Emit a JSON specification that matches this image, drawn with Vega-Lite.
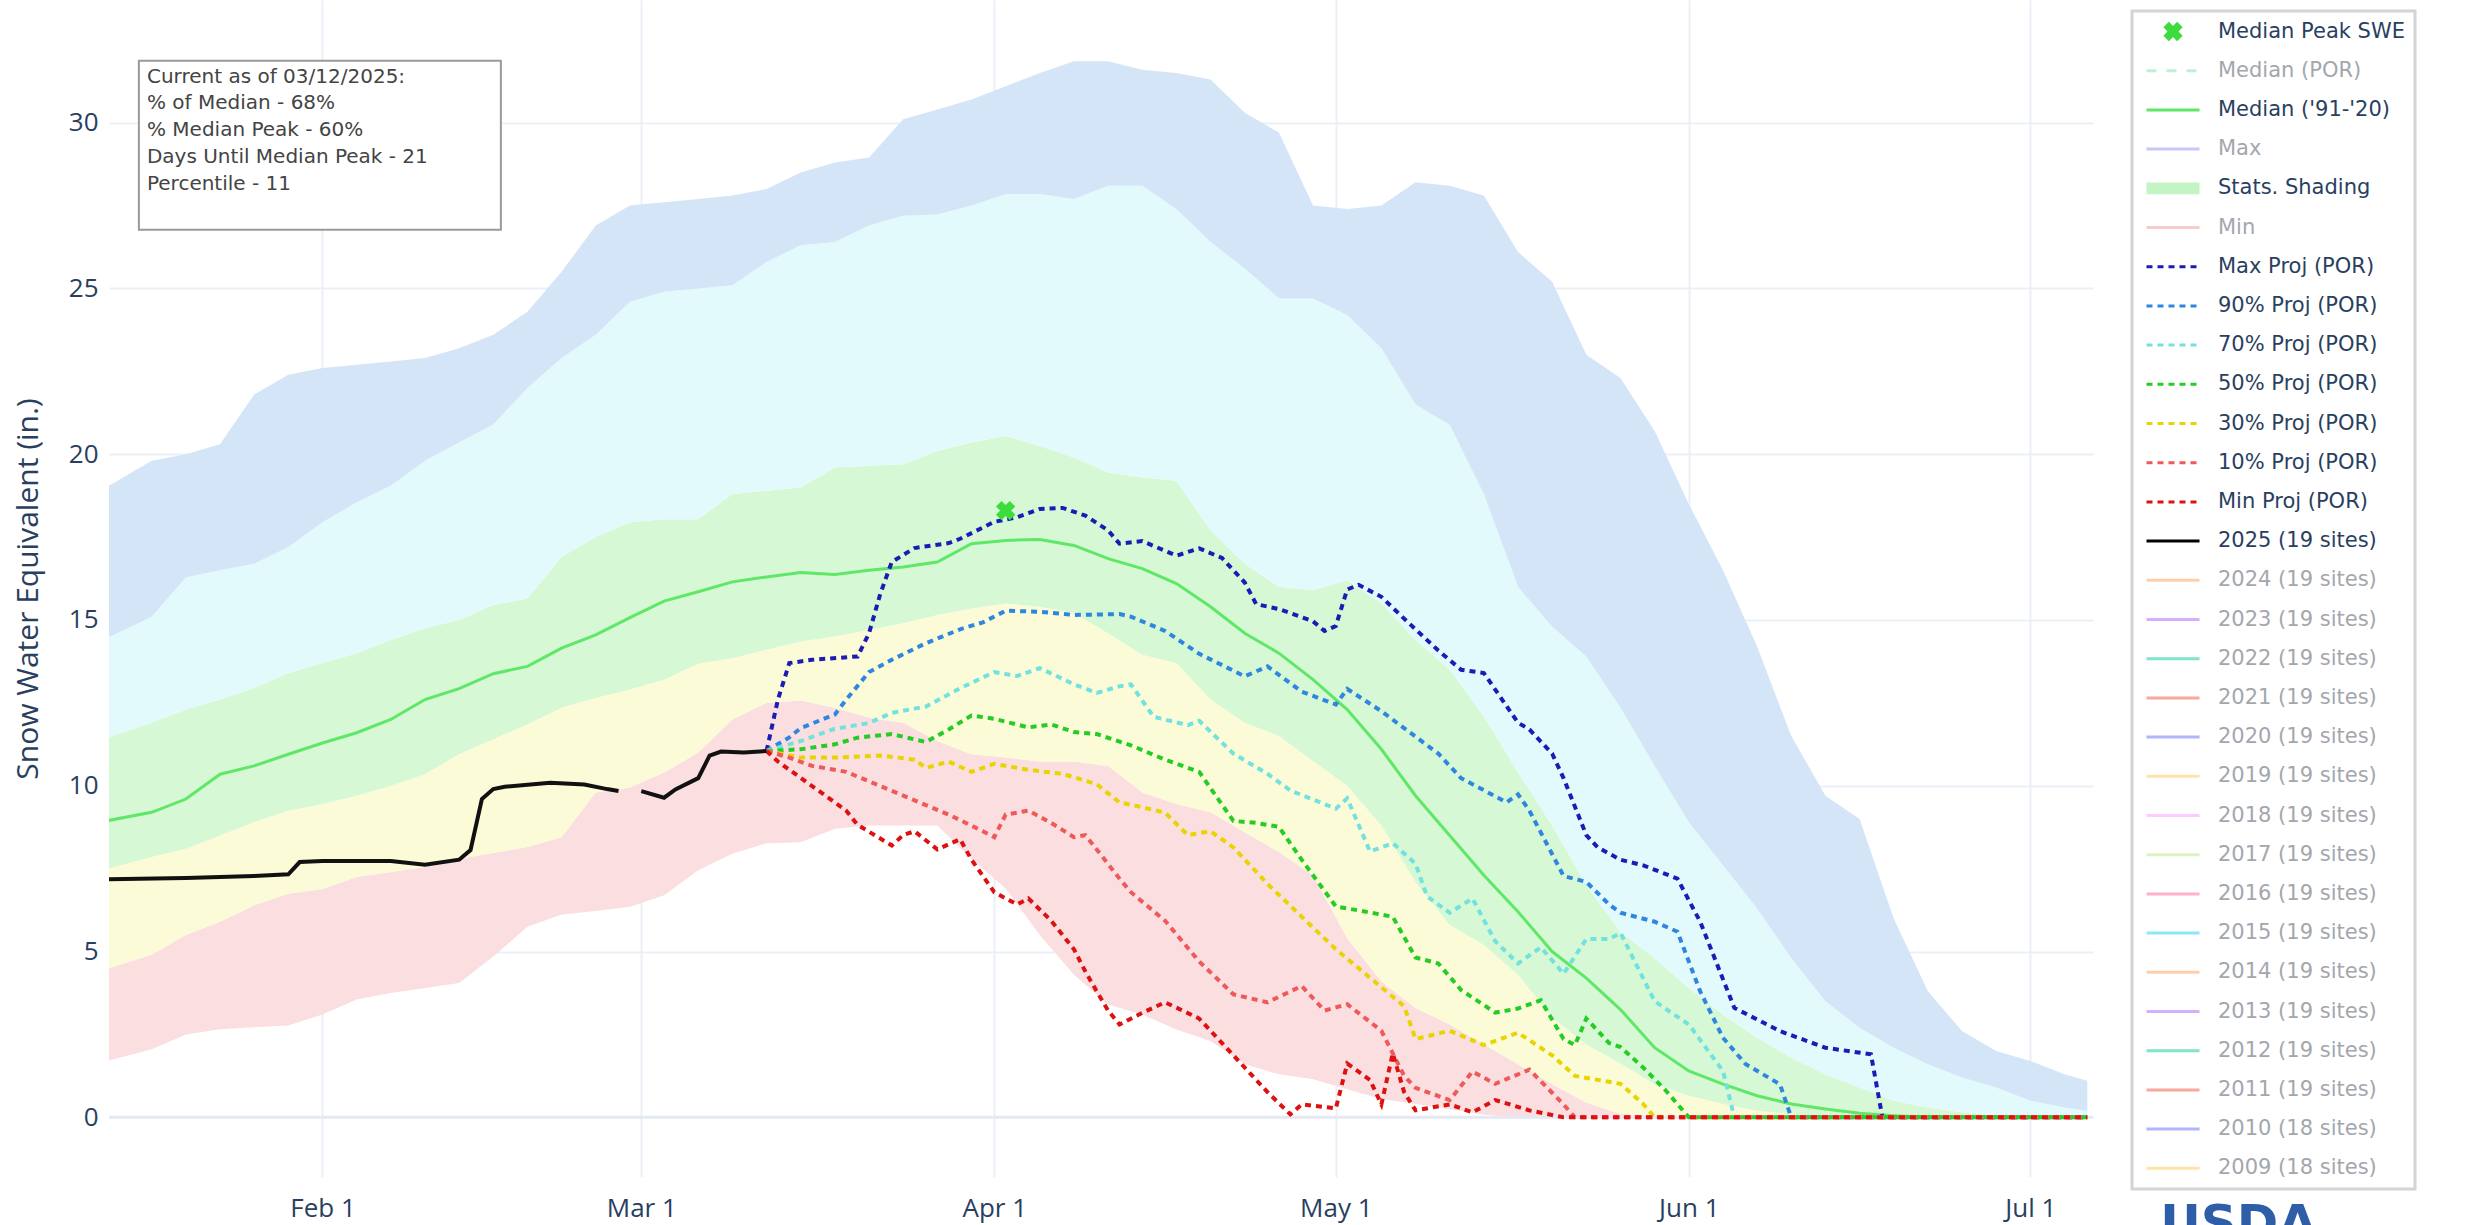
{
  "$schema": "https://vega.github.io/schema/vega-lite/v6.json",
  "width": 1984,
  "height": 1177,
  "autosize": {"type": "none"},
  "padding": {"left": 109, "top": 0, "right": 378, "bottom": 48},
  "background": "white",
  "title": {"text": "USDA", "orient": "bottom", "anchor": "end", "frame": "group", "baseline": "top", "offset": 0, "dx": 224, "dy": -21, "fontSize": 50, "font": "DejaVu Sans", "fontWeight": "bold", "color": "#2f5ea8"},
  "config": {
    "font": "DejaVu Sans",
    "view": {"stroke": null},
    "axis": {
      "labelFont": "Open Sans",
      "labelFontSize": 26,
      "labelColor": "#2a3f5f",
      "gridColor": "#ebf0f8",
      "gridWidth": 2,
      "domain": false,
      "ticks": false,
      "titleFont": "Open Sans",
      "titleColor": "#2a3f5f",
      "titleFontWeight": "normal"
    }
  },
  "datasets": {
    "bands": [
      {"date":"2025/01/13","mn":1.69,"p10":4.47,"p30":7.48,"p70":11.44,"p90":14.44,"mx":19.0},
      {"date":"2025/01/17","mn":2.05,"p10":4.9,"p30":7.85,"p70":11.9,"p90":15.1,"mx":19.8},
      {"date":"2025/01/20","mn":2.5,"p10":5.5,"p30":8.1,"p70":12.3,"p90":16.28,"mx":20.0},
      {"date":"2025/01/23","mn":2.66,"p10":5.9,"p30":8.5,"p70":12.6,"p90":16.5,"mx":20.3},
      {"date":"2025/01/26","mn":2.72,"p10":6.4,"p30":8.9,"p70":12.95,"p90":16.7,"mx":21.8},
      {"date":"2025/01/29","mn":2.77,"p10":6.74,"p30":9.25,"p70":13.4,"p90":17.2,"mx":22.4},
      {"date":"2025/02/01","mn":3.1,"p10":6.89,"p30":9.45,"p70":13.7,"p90":17.95,"mx":22.6},
      {"date":"2025/02/04","mn":3.55,"p10":7.25,"p30":9.7,"p70":14.0,"p90":18.55,"mx":22.7},
      {"date":"2025/02/07","mn":3.75,"p10":7.4,"p30":10.0,"p70":14.4,"p90":19.05,"mx":22.8},
      {"date":"2025/02/10","mn":3.9,"p10":7.55,"p30":10.35,"p70":14.75,"p90":19.8,"mx":22.9},
      {"date":"2025/02/13","mn":4.05,"p10":7.8,"p30":10.95,"p70":15.0,"p90":20.35,"mx":23.2},
      {"date":"2025/02/16","mn":4.85,"p10":7.97,"p30":11.4,"p70":15.45,"p90":20.9,"mx":23.6},
      {"date":"2025/02/19","mn":5.75,"p10":8.15,"p30":11.85,"p70":15.65,"p90":22.0,"mx":24.3},
      {"date":"2025/02/22","mn":6.12,"p10":8.45,"p30":12.35,"p70":16.9,"p90":22.9,"mx":25.5},
      {"date":"2025/02/25","mn":6.22,"p10":9.8,"p30":12.65,"p70":17.5,"p90":23.6,"mx":26.9},
      {"date":"2025/02/28","mn":6.35,"p10":9.95,"p30":12.9,"p70":17.95,"p90":24.6,"mx":27.5},
      {"date":"2025/03/03","mn":6.7,"p10":10.4,"p30":13.2,"p70":18.04,"p90":24.9,"mx":27.6},
      {"date":"2025/03/06","mn":7.45,"p10":11.0,"p30":13.68,"p70":18.04,"p90":25.0,"mx":27.7},
      {"date":"2025/03/09","mn":7.95,"p10":12.0,"p30":13.85,"p70":18.8,"p90":25.1,"mx":27.8},
      {"date":"2025/03/12","mn":8.27,"p10":12.5,"p30":14.1,"p70":18.9,"p90":25.8,"mx":28.0},
      {"date":"2025/03/15","mn":8.3,"p10":12.57,"p30":14.35,"p70":19.0,"p90":26.3,"mx":28.5},
      {"date":"2025/03/18","mn":8.7,"p10":12.35,"p30":14.5,"p70":19.6,"p90":26.4,"mx":28.8},
      {"date":"2025/03/21","mn":8.8,"p10":12.05,"p30":14.7,"p70":19.65,"p90":26.9,"mx":28.95},
      {"date":"2025/03/24","mn":8.8,"p10":11.9,"p30":14.9,"p70":19.7,"p90":27.19,"mx":30.1},
      {"date":"2025/03/27","mn":8.8,"p10":11.35,"p30":15.15,"p70":20.1,"p90":27.23,"mx":30.4},
      {"date":"2025/03/30","mn":7.8,"p10":10.95,"p30":15.35,"p70":20.35,"p90":27.5,"mx":30.7},
      {"date":"2025/04/02","mn":6.9,"p10":10.85,"p30":15.5,"p70":20.55,"p90":27.85,"mx":31.1},
      {"date":"2025/04/05","mn":5.5,"p10":10.73,"p30":15.4,"p70":20.25,"p90":27.85,"mx":31.5},
      {"date":"2025/04/08","mn":4.3,"p10":10.73,"p30":15.2,"p70":19.9,"p90":27.7,"mx":31.85},
      {"date":"2025/04/11","mn":3.4,"p10":10.6,"p30":14.6,"p70":19.45,"p90":28.1,"mx":31.85},
      {"date":"2025/04/14","mn":3.1,"p10":9.8,"p30":13.95,"p70":19.3,"p90":28.1,"mx":31.6},
      {"date":"2025/04/17","mn":2.65,"p10":9.45,"p30":13.7,"p70":19.2,"p90":27.4,"mx":31.5},
      {"date":"2025/04/20","mn":2.3,"p10":9.2,"p30":12.6,"p70":17.7,"p90":26.4,"mx":31.3},
      {"date":"2025/04/23","mn":1.6,"p10":8.6,"p30":11.9,"p70":16.7,"p90":25.6,"mx":30.3},
      {"date":"2025/04/26","mn":1.3,"p10":8.0,"p30":11.5,"p70":16.0,"p90":24.7,"mx":29.7},
      {"date":"2025/04/29","mn":1.15,"p10":7.3,"p30":10.75,"p70":15.9,"p90":24.7,"mx":27.5},
      {"date":"2025/05/02","mn":0.85,"p10":5.4,"p30":10.0,"p70":16.2,"p90":24.2,"mx":27.4},
      {"date":"2025/05/05","mn":0.55,"p10":4.1,"p30":8.8,"p70":15.5,"p90":23.2,"mx":27.5},
      {"date":"2025/05/08","mn":0.4,"p10":3.3,"p30":7.1,"p70":14.4,"p90":21.5,"mx":28.2},
      {"date":"2025/05/11","mn":0.25,"p10":2.8,"p30":5.8,"p70":13.5,"p90":20.89,"mx":28.1},
      {"date":"2025/05/14","mn":0.08,"p10":2.2,"p30":5.2,"p70":12.1,"p90":18.8,"mx":27.8},
      {"date":"2025/05/17","mn":0,"p10":1.6,"p30":4.3,"p70":10.4,"p90":16.0,"mx":26.1},
      {"date":"2025/05/20","mn":0,"p10":1.0,"p30":3.0,"p70":8.8,"p90":14.8,"mx":25.2},
      {"date":"2025/05/23","mn":0,"p10":0.45,"p30":2.2,"p70":7.0,"p90":13.9,"mx":23.0},
      {"date":"2025/05/26","mn":0,"p10":0.1,"p30":1.62,"p70":5.6,"p90":12.35,"mx":22.3},
      {"date":"2025/05/29","mn":0,"p10":0.05,"p30":1.0,"p70":4.8,"p90":10.6,"mx":20.7},
      {"date":"2025/06/01","mn":0,"p10":0,"p30":0.65,"p70":3.9,"p90":8.9,"mx":18.5},
      {"date":"2025/06/04","mn":0,"p10":0,"p30":0.4,"p70":3.1,"p90":7.6,"mx":16.5},
      {"date":"2025/06/07","mn":0,"p10":0,"p30":0.2,"p70":2.4,"p90":6.3,"mx":14.2},
      {"date":"2025/06/10","mn":0,"p10":0,"p30":0.1,"p70":1.8,"p90":4.8,"mx":11.5},
      {"date":"2025/06/13","mn":0,"p10":0,"p30":0.03,"p70":1.3,"p90":3.5,"mx":9.7},
      {"date":"2025/06/16","mn":0,"p10":0,"p30":0,"p70":0.9,"p90":2.7,"mx":9.0},
      {"date":"2025/06/19","mn":0,"p10":0,"p30":0,"p70":0.5,"p90":2.1,"mx":6.0},
      {"date":"2025/06/22","mn":0,"p10":0,"p30":0,"p70":0.3,"p90":1.6,"mx":3.8},
      {"date":"2025/06/25","mn":0,"p10":0,"p30":0,"p70":0.15,"p90":1.2,"mx":2.6},
      {"date":"2025/06/28","mn":0,"p10":0,"p30":0,"p70":0.05,"p90":0.9,"mx":2.0},
      {"date":"2025/07/01","mn":0,"p10":0,"p30":0,"p70":0,"p90":0.5,"mx":1.7},
      {"date":"2025/07/04","mn":0,"p10":0,"p30":0,"p70":0,"p90":0.3,"mx":1.3},
      {"date":"2025/07/06","mn":0,"p10":0,"p30":0,"p70":0,"p90":0.2,"mx":1.1}
    ],
    "median": [
      {"date":"2025/01/13","v":8.94},{"date":"2025/01/17","v":9.2},{"date":"2025/01/20","v":9.6},{"date":"2025/01/22","v":10.1},
      {"date":"2025/01/23","v":10.35},{"date":"2025/01/26","v":10.6},{"date":"2025/01/29","v":10.95},{"date":"2025/02/01","v":11.29},
      {"date":"2025/02/04","v":11.6},{"date":"2025/02/07","v":12.0},{"date":"2025/02/10","v":12.6},{"date":"2025/02/13","v":12.93},
      {"date":"2025/02/16","v":13.38},{"date":"2025/02/19","v":13.6},{"date":"2025/02/22","v":14.15},{"date":"2025/02/25","v":14.55},
      {"date":"2025/02/28","v":15.07},{"date":"2025/03/03","v":15.57},{"date":"2025/03/06","v":15.85},{"date":"2025/03/09","v":16.15},
      {"date":"2025/03/12","v":16.3},{"date":"2025/03/15","v":16.43},{"date":"2025/03/18","v":16.37},{"date":"2025/03/21","v":16.5},
      {"date":"2025/03/24","v":16.6},{"date":"2025/03/27","v":16.75},{"date":"2025/03/30","v":17.3},{"date":"2025/04/02","v":17.4},
      {"date":"2025/04/05","v":17.43},{"date":"2025/04/08","v":17.25},{"date":"2025/04/11","v":16.85},{"date":"2025/04/14","v":16.55},
      {"date":"2025/04/17","v":16.1},{"date":"2025/04/20","v":15.4},{"date":"2025/04/23","v":14.6},{"date":"2025/04/26","v":14.0},
      {"date":"2025/04/29","v":13.2},{"date":"2025/05/02","v":12.3},{"date":"2025/05/05","v":11.1},{"date":"2025/05/08","v":9.7},
      {"date":"2025/05/11","v":8.5},{"date":"2025/05/14","v":7.3},{"date":"2025/05/17","v":6.2},{"date":"2025/05/20","v":5.0},
      {"date":"2025/05/23","v":4.2},{"date":"2025/05/26","v":3.25},{"date":"2025/05/29","v":2.1},{"date":"2025/06/01","v":1.4},
      {"date":"2025/06/04","v":1.0},{"date":"2025/06/07","v":0.65},{"date":"2025/06/10","v":0.4},{"date":"2025/06/13","v":0.25},
      {"date":"2025/06/16","v":0.12},{"date":"2025/06/19","v":0.05},{"date":"2025/06/22","v":0},{"date":"2025/07/06","v":0}
    ],
    "wy2025": [
      {"date":"2025/01/13","v":7.18},{"date":"2025/01/20","v":7.22},{"date":"2025/01/26","v":7.28},{"date":"2025/01/29","v":7.33},
      {"date":"2025/01/30","v":7.7},{"date":"2025/02/01","v":7.73},{"date":"2025/02/07","v":7.73},{"date":"2025/02/10","v":7.62},
      {"date":"2025/02/13","v":7.77},{"date":"2025/02/14","v":8.06},{"date":"2025/02/15","v":9.6},{"date":"2025/02/16","v":9.9},
      {"date":"2025/02/17","v":9.97},{"date":"2025/02/21","v":10.09},{"date":"2025/02/24","v":10.04},{"date":"2025/02/26","v":9.9},
      {"date":"2025/02/27","v":9.84},{"date":"2025/02/28","v":null},{"date":"2025/03/01","v":9.84},{"date":"2025/03/03","v":9.64},
      {"date":"2025/03/04","v":9.89},{"date":"2025/03/06","v":10.23},{"date":"2025/03/07","v":10.91},{"date":"2025/03/08","v":11.03},
      {"date":"2025/03/10","v":11.0},{"date":"2025/03/12","v":11.05}
    ],
    "proj": [
      {"s":"Max Proj (POR)","date":"2025/03/12","v":11.05},{"s":"Max Proj (POR)","date":"2025/03/13","v":12.6},{"s":"Max Proj (POR)","date":"2025/03/14","v":13.7},
      {"s":"Max Proj (POR)","date":"2025/03/16","v":13.8},{"s":"Max Proj (POR)","date":"2025/03/20","v":13.9},{"s":"Max Proj (POR)","date":"2025/03/21","v":14.6},
      {"s":"Max Proj (POR)","date":"2025/03/22","v":15.8},{"s":"Max Proj (POR)","date":"2025/03/23","v":16.75},{"s":"Max Proj (POR)","date":"2025/03/25","v":17.17},
      {"s":"Max Proj (POR)","date":"2025/03/28","v":17.32},{"s":"Max Proj (POR)","date":"2025/03/29","v":17.45},{"s":"Max Proj (POR)","date":"2025/04/01","v":17.96},
      {"s":"Max Proj (POR)","date":"2025/04/03","v":18.1},{"s":"Max Proj (POR)","date":"2025/04/05","v":18.35},{"s":"Max Proj (POR)","date":"2025/04/07","v":18.38},
      {"s":"Max Proj (POR)","date":"2025/04/09","v":18.15},{"s":"Max Proj (POR)","date":"2025/04/11","v":17.7},{"s":"Max Proj (POR)","date":"2025/04/12","v":17.3},
      {"s":"Max Proj (POR)","date":"2025/04/14","v":17.38},{"s":"Max Proj (POR)","date":"2025/04/17","v":16.94},{"s":"Max Proj (POR)","date":"2025/04/19","v":17.16},
      {"s":"Max Proj (POR)","date":"2025/04/21","v":16.87},{"s":"Max Proj (POR)","date":"2025/04/23","v":16.13},{"s":"Max Proj (POR)","date":"2025/04/24","v":15.48},
      {"s":"Max Proj (POR)","date":"2025/04/26","v":15.33},{"s":"Max Proj (POR)","date":"2025/04/29","v":14.96},{"s":"Max Proj (POR)","date":"2025/04/30","v":14.67},
      {"s":"Max Proj (POR)","date":"2025/05/01","v":14.82},{"s":"Max Proj (POR)","date":"2025/05/02","v":15.92},{"s":"Max Proj (POR)","date":"2025/05/03","v":16.06},
      {"s":"Max Proj (POR)","date":"2025/05/05","v":15.7},{"s":"Max Proj (POR)","date":"2025/05/07","v":15.04},{"s":"Max Proj (POR)","date":"2025/05/10","v":14.08},
      {"s":"Max Proj (POR)","date":"2025/05/12","v":13.5},{"s":"Max Proj (POR)","date":"2025/05/14","v":13.4},{"s":"Max Proj (POR)","date":"2025/05/15","v":12.9},
      {"s":"Max Proj (POR)","date":"2025/05/17","v":11.9},{"s":"Max Proj (POR)","date":"2025/05/18","v":11.7},{"s":"Max Proj (POR)","date":"2025/05/20","v":10.97},
      {"s":"Max Proj (POR)","date":"2025/05/21","v":10.23},{"s":"Max Proj (POR)","date":"2025/05/23","v":8.51},{"s":"Max Proj (POR)","date":"2025/05/24","v":8.14},
      {"s":"Max Proj (POR)","date":"2025/05/26","v":7.77},{"s":"Max Proj (POR)","date":"2025/05/28","v":7.6},{"s":"Max Proj (POR)","date":"2025/05/31","v":7.2},
      {"s":"Max Proj (POR)","date":"2025/06/02","v":5.9},{"s":"Max Proj (POR)","date":"2025/06/05","v":3.3},{"s":"Max Proj (POR)","date":"2025/06/09","v":2.6},
      {"s":"Max Proj (POR)","date":"2025/06/13","v":2.1},{"s":"Max Proj (POR)","date":"2025/06/17","v":1.9},{"s":"Max Proj (POR)","date":"2025/06/18","v":0},
      {"s":"Max Proj (POR)","date":"2025/07/06","v":0},

      {"s":"90% Proj (POR)","date":"2025/03/12","v":11.05},{"s":"90% Proj (POR)","date":"2025/03/14","v":11.46},{"s":"90% Proj (POR)","date":"2025/03/15","v":11.74},
      {"s":"90% Proj (POR)","date":"2025/03/18","v":12.15},{"s":"90% Proj (POR)","date":"2025/03/19","v":12.6},{"s":"90% Proj (POR)","date":"2025/03/21","v":13.43},
      {"s":"90% Proj (POR)","date":"2025/03/23","v":13.8},{"s":"90% Proj (POR)","date":"2025/03/26","v":14.3},{"s":"90% Proj (POR)","date":"2025/03/29","v":14.72},
      {"s":"90% Proj (POR)","date":"2025/03/31","v":14.93},{"s":"90% Proj (POR)","date":"2025/04/02","v":15.28},{"s":"90% Proj (POR)","date":"2025/04/05","v":15.25},
      {"s":"90% Proj (POR)","date":"2025/04/08","v":15.15},{"s":"90% Proj (POR)","date":"2025/04/12","v":15.18},{"s":"90% Proj (POR)","date":"2025/04/13","v":15.1},
      {"s":"90% Proj (POR)","date":"2025/04/16","v":14.67},{"s":"90% Proj (POR)","date":"2025/04/19","v":13.98},{"s":"90% Proj (POR)","date":"2025/04/23","v":13.3},
      {"s":"90% Proj (POR)","date":"2025/04/25","v":13.6},{"s":"90% Proj (POR)","date":"2025/04/28","v":12.84},{"s":"90% Proj (POR)","date":"2025/05/01","v":12.45},
      {"s":"90% Proj (POR)","date":"2025/05/02","v":12.92},{"s":"90% Proj (POR)","date":"2025/05/05","v":12.25},{"s":"90% Proj (POR)","date":"2025/05/10","v":10.97},
      {"s":"90% Proj (POR)","date":"2025/05/12","v":10.23},{"s":"90% Proj (POR)","date":"2025/05/16","v":9.5},{"s":"90% Proj (POR)","date":"2025/05/17","v":9.74},
      {"s":"90% Proj (POR)","date":"2025/05/18","v":9.25},{"s":"90% Proj (POR)","date":"2025/05/21","v":7.28},{"s":"90% Proj (POR)","date":"2025/05/23","v":7.1},
      {"s":"90% Proj (POR)","date":"2025/05/25","v":6.42},{"s":"90% Proj (POR)","date":"2025/05/26","v":6.17},{"s":"90% Proj (POR)","date":"2025/05/29","v":5.9},
      {"s":"90% Proj (POR)","date":"2025/05/31","v":5.6},{"s":"90% Proj (POR)","date":"2025/06/02","v":3.8},{"s":"90% Proj (POR)","date":"2025/06/04","v":2.4},
      {"s":"90% Proj (POR)","date":"2025/06/06","v":1.6},{"s":"90% Proj (POR)","date":"2025/06/09","v":1.0},{"s":"90% Proj (POR)","date":"2025/06/10","v":0},
      {"s":"90% Proj (POR)","date":"2025/07/06","v":0},

      {"s":"70% Proj (POR)","date":"2025/03/12","v":11.05},{"s":"70% Proj (POR)","date":"2025/03/15","v":11.35},{"s":"70% Proj (POR)","date":"2025/03/18","v":11.72},
      {"s":"70% Proj (POR)","date":"2025/03/21","v":11.89},{"s":"70% Proj (POR)","date":"2025/03/23","v":12.2},{"s":"70% Proj (POR)","date":"2025/03/26","v":12.39},
      {"s":"70% Proj (POR)","date":"2025/03/29","v":12.94},{"s":"70% Proj (POR)","date":"2025/04/01","v":13.43},{"s":"70% Proj (POR)","date":"2025/04/03","v":13.31},
      {"s":"70% Proj (POR)","date":"2025/04/05","v":13.55},{"s":"70% Proj (POR)","date":"2025/04/08","v":13.06},{"s":"70% Proj (POR)","date":"2025/04/10","v":12.8},
      {"s":"70% Proj (POR)","date":"2025/04/12","v":13.0},{"s":"70% Proj (POR)","date":"2025/04/13","v":13.06},{"s":"70% Proj (POR)","date":"2025/04/15","v":12.08},
      {"s":"70% Proj (POR)","date":"2025/04/18","v":11.83},{"s":"70% Proj (POR)","date":"2025/04/19","v":11.96},{"s":"70% Proj (POR)","date":"2025/04/22","v":10.97},
      {"s":"70% Proj (POR)","date":"2025/04/25","v":10.36},{"s":"70% Proj (POR)","date":"2025/04/27","v":9.86},{"s":"70% Proj (POR)","date":"2025/05/01","v":9.31},
      {"s":"70% Proj (POR)","date":"2025/05/02","v":9.62},{"s":"70% Proj (POR)","date":"2025/05/04","v":8.02},{"s":"70% Proj (POR)","date":"2025/05/06","v":8.27},
      {"s":"70% Proj (POR)","date":"2025/05/08","v":7.65},{"s":"70% Proj (POR)","date":"2025/05/09","v":6.67},{"s":"70% Proj (POR)","date":"2025/05/11","v":6.17},
      {"s":"70% Proj (POR)","date":"2025/05/13","v":6.6},{"s":"70% Proj (POR)","date":"2025/05/15","v":5.31},{"s":"70% Proj (POR)","date":"2025/05/17","v":4.64},
      {"s":"70% Proj (POR)","date":"2025/05/19","v":5.13},{"s":"70% Proj (POR)","date":"2025/05/21","v":4.33},{"s":"70% Proj (POR)","date":"2025/05/23","v":5.38},
      {"s":"70% Proj (POR)","date":"2025/05/25","v":5.38},{"s":"70% Proj (POR)","date":"2025/05/26","v":5.56},{"s":"70% Proj (POR)","date":"2025/05/29","v":3.5},
      {"s":"70% Proj (POR)","date":"2025/06/01","v":2.8},{"s":"70% Proj (POR)","date":"2025/06/04","v":1.4},{"s":"70% Proj (POR)","date":"2025/06/05","v":0},
      {"s":"70% Proj (POR)","date":"2025/07/06","v":0},

      {"s":"50% Proj (POR)","date":"2025/03/12","v":11.05},{"s":"50% Proj (POR)","date":"2025/03/15","v":11.1},{"s":"50% Proj (POR)","date":"2025/03/18","v":11.25},
      {"s":"50% Proj (POR)","date":"2025/03/20","v":11.45},{"s":"50% Proj (POR)","date":"2025/03/23","v":11.56},{"s":"50% Proj (POR)","date":"2025/03/25","v":11.4},
      {"s":"50% Proj (POR)","date":"2025/03/26","v":11.32},{"s":"50% Proj (POR)","date":"2025/03/28","v":11.7},{"s":"50% Proj (POR)","date":"2025/03/30","v":12.12},
      {"s":"50% Proj (POR)","date":"2025/04/01","v":12.02},{"s":"50% Proj (POR)","date":"2025/04/04","v":11.76},{"s":"50% Proj (POR)","date":"2025/04/06","v":11.85},
      {"s":"50% Proj (POR)","date":"2025/04/08","v":11.62},{"s":"50% Proj (POR)","date":"2025/04/10","v":11.56},{"s":"50% Proj (POR)","date":"2025/04/13","v":11.22},
      {"s":"50% Proj (POR)","date":"2025/04/16","v":10.79},{"s":"50% Proj (POR)","date":"2025/04/19","v":10.42},{"s":"50% Proj (POR)","date":"2025/04/22","v":8.94},
      {"s":"50% Proj (POR)","date":"2025/04/24","v":8.88},{"s":"50% Proj (POR)","date":"2025/04/26","v":8.76},{"s":"50% Proj (POR)","date":"2025/04/28","v":7.77},
      {"s":"50% Proj (POR)","date":"2025/05/01","v":6.36},{"s":"50% Proj (POR)","date":"2025/05/03","v":6.24},{"s":"50% Proj (POR)","date":"2025/05/06","v":6.05},
      {"s":"50% Proj (POR)","date":"2025/05/08","v":4.82},{"s":"50% Proj (POR)","date":"2025/05/10","v":4.64},{"s":"50% Proj (POR)","date":"2025/05/12","v":3.84},
      {"s":"50% Proj (POR)","date":"2025/05/15","v":3.16},{"s":"50% Proj (POR)","date":"2025/05/17","v":3.28},{"s":"50% Proj (POR)","date":"2025/05/19","v":3.53},
      {"s":"50% Proj (POR)","date":"2025/05/21","v":2.36},{"s":"50% Proj (POR)","date":"2025/05/22","v":2.18},{"s":"50% Proj (POR)","date":"2025/05/23","v":2.98},
      {"s":"50% Proj (POR)","date":"2025/05/25","v":2.24},{"s":"50% Proj (POR)","date":"2025/05/26","v":2.12},{"s":"50% Proj (POR)","date":"2025/05/28","v":1.5},
      {"s":"50% Proj (POR)","date":"2025/05/30","v":0.8},{"s":"50% Proj (POR)","date":"2025/06/01","v":0},{"s":"50% Proj (POR)","date":"2025/07/06","v":0},

      {"s":"30% Proj (POR)","date":"2025/03/12","v":11.05},{"s":"30% Proj (POR)","date":"2025/03/15","v":10.85},{"s":"30% Proj (POR)","date":"2025/03/18","v":10.85},
      {"s":"30% Proj (POR)","date":"2025/03/22","v":10.91},{"s":"30% Proj (POR)","date":"2025/03/25","v":10.79},{"s":"30% Proj (POR)","date":"2025/03/26","v":10.54},
      {"s":"30% Proj (POR)","date":"2025/03/28","v":10.73},{"s":"30% Proj (POR)","date":"2025/03/30","v":10.42},{"s":"30% Proj (POR)","date":"2025/04/01","v":10.66},
      {"s":"30% Proj (POR)","date":"2025/04/04","v":10.48},{"s":"30% Proj (POR)","date":"2025/04/07","v":10.36},{"s":"30% Proj (POR)","date":"2025/04/10","v":10.05},
      {"s":"30% Proj (POR)","date":"2025/04/12","v":9.5},{"s":"30% Proj (POR)","date":"2025/04/13","v":9.43},{"s":"30% Proj (POR)","date":"2025/04/16","v":9.19},
      {"s":"30% Proj (POR)","date":"2025/04/18","v":8.51},{"s":"30% Proj (POR)","date":"2025/04/20","v":8.63},{"s":"30% Proj (POR)","date":"2025/04/22","v":8.14},
      {"s":"30% Proj (POR)","date":"2025/04/25","v":7.04},{"s":"30% Proj (POR)","date":"2025/04/28","v":6.05},{"s":"30% Proj (POR)","date":"2025/05/01","v":5.07},
      {"s":"30% Proj (POR)","date":"2025/05/04","v":4.21},{"s":"30% Proj (POR)","date":"2025/05/07","v":3.35},{"s":"30% Proj (POR)","date":"2025/05/08","v":2.36},
      {"s":"30% Proj (POR)","date":"2025/05/11","v":2.61},{"s":"30% Proj (POR)","date":"2025/05/14","v":2.18},{"s":"30% Proj (POR)","date":"2025/05/17","v":2.55},
      {"s":"30% Proj (POR)","date":"2025/05/20","v":1.87},{"s":"30% Proj (POR)","date":"2025/05/22","v":1.25},{"s":"30% Proj (POR)","date":"2025/05/24","v":1.13},
      {"s":"30% Proj (POR)","date":"2025/05/26","v":1.01},{"s":"30% Proj (POR)","date":"2025/05/28","v":0.4},{"s":"30% Proj (POR)","date":"2025/05/29","v":0},
      {"s":"30% Proj (POR)","date":"2025/07/06","v":0},

      {"s":"10% Proj (POR)","date":"2025/03/12","v":11.05},{"s":"10% Proj (POR)","date":"2025/03/14","v":10.85},{"s":"10% Proj (POR)","date":"2025/03/16","v":10.6},
      {"s":"10% Proj (POR)","date":"2025/03/19","v":10.42},{"s":"10% Proj (POR)","date":"2025/03/22","v":9.99},{"s":"10% Proj (POR)","date":"2025/03/25","v":9.56},
      {"s":"10% Proj (POR)","date":"2025/03/28","v":9.13},{"s":"10% Proj (POR)","date":"2025/03/31","v":8.63},{"s":"10% Proj (POR)","date":"2025/04/01","v":8.45},
      {"s":"10% Proj (POR)","date":"2025/04/02","v":9.13},{"s":"10% Proj (POR)","date":"2025/04/04","v":9.25},{"s":"10% Proj (POR)","date":"2025/04/06","v":8.88},
      {"s":"10% Proj (POR)","date":"2025/04/08","v":8.45},{"s":"10% Proj (POR)","date":"2025/04/09","v":8.51},{"s":"10% Proj (POR)","date":"2025/04/10","v":8.08},
      {"s":"10% Proj (POR)","date":"2025/04/12","v":7.2},{"s":"10% Proj (POR)","date":"2025/04/13","v":6.79},{"s":"10% Proj (POR)","date":"2025/04/16","v":5.93},
      {"s":"10% Proj (POR)","date":"2025/04/19","v":4.7},{"s":"10% Proj (POR)","date":"2025/04/22","v":3.71},{"s":"10% Proj (POR)","date":"2025/04/25","v":3.47},
      {"s":"10% Proj (POR)","date":"2025/04/28","v":3.96},{"s":"10% Proj (POR)","date":"2025/04/30","v":3.22},{"s":"10% Proj (POR)","date":"2025/05/02","v":3.41},
      {"s":"10% Proj (POR)","date":"2025/05/05","v":2.61},{"s":"10% Proj (POR)","date":"2025/05/06","v":1.93},{"s":"10% Proj (POR)","date":"2025/05/07","v":1.25},
      {"s":"10% Proj (POR)","date":"2025/05/08","v":0.89},{"s":"10% Proj (POR)","date":"2025/05/11","v":0.52},{"s":"10% Proj (POR)","date":"2025/05/13","v":1.38},
      {"s":"10% Proj (POR)","date":"2025/05/15","v":1.01},{"s":"10% Proj (POR)","date":"2025/05/18","v":1.44},{"s":"10% Proj (POR)","date":"2025/05/21","v":0.39},
      {"s":"10% Proj (POR)","date":"2025/05/22","v":0},{"s":"10% Proj (POR)","date":"2025/07/06","v":0},

      {"s":"Min Proj (POR)","date":"2025/03/12","v":11.05},{"s":"Min Proj (POR)","date":"2025/03/13","v":10.73},{"s":"Min Proj (POR)","date":"2025/03/16","v":9.99},
      {"s":"Min Proj (POR)","date":"2025/03/19","v":9.25},{"s":"Min Proj (POR)","date":"2025/03/20","v":8.82},{"s":"Min Proj (POR)","date":"2025/03/23","v":8.2},
      {"s":"Min Proj (POR)","date":"2025/03/24","v":8.51},{"s":"Min Proj (POR)","date":"2025/03/25","v":8.63},{"s":"Min Proj (POR)","date":"2025/03/27","v":8.08},
      {"s":"Min Proj (POR)","date":"2025/03/29","v":8.39},{"s":"Min Proj (POR)","date":"2025/03/30","v":7.77},{"s":"Min Proj (POR)","date":"2025/04/01","v":6.79},
      {"s":"Min Proj (POR)","date":"2025/04/03","v":6.42},{"s":"Min Proj (POR)","date":"2025/04/04","v":6.6},{"s":"Min Proj (POR)","date":"2025/04/06","v":5.93},
      {"s":"Min Proj (POR)","date":"2025/04/08","v":5.07},{"s":"Min Proj (POR)","date":"2025/04/09","v":4.4},{"s":"Min Proj (POR)","date":"2025/04/10","v":3.8},
      {"s":"Min Proj (POR)","date":"2025/04/11","v":3.22},{"s":"Min Proj (POR)","date":"2025/04/12","v":2.8},{"s":"Min Proj (POR)","date":"2025/04/14","v":3.15},
      {"s":"Min Proj (POR)","date":"2025/04/16","v":3.47},{"s":"Min Proj (POR)","date":"2025/04/19","v":2.98},{"s":"Min Proj (POR)","date":"2025/04/22","v":1.87},
      {"s":"Min Proj (POR)","date":"2025/04/25","v":0.76},{"s":"Min Proj (POR)","date":"2025/04/27","v":0.09},{"s":"Min Proj (POR)","date":"2025/04/28","v":0.39},
      {"s":"Min Proj (POR)","date":"2025/05/01","v":0.27},{"s":"Min Proj (POR)","date":"2025/05/02","v":1.62},{"s":"Min Proj (POR)","date":"2025/05/04","v":1.13},
      {"s":"Min Proj (POR)","date":"2025/05/05","v":0.39},{"s":"Min Proj (POR)","date":"2025/05/06","v":1.93},{"s":"Min Proj (POR)","date":"2025/05/07","v":0.76},
      {"s":"Min Proj (POR)","date":"2025/05/08","v":0.21},{"s":"Min Proj (POR)","date":"2025/05/11","v":0.39},{"s":"Min Proj (POR)","date":"2025/05/13","v":0.15},
      {"s":"Min Proj (POR)","date":"2025/05/15","v":0.52},{"s":"Min Proj (POR)","date":"2025/05/18","v":0.21},{"s":"Min Proj (POR)","date":"2025/05/21","v":0},
      {"s":"Min Proj (POR)","date":"2025/07/06","v":0}
    ]
  },
  "layer": [
    {
      "data": {"name": "bands"},
      "mark": {"type": "area", "color": "#fbdedf", "clip": true},
      "encoding": {
        "x": {
          "field": "date", "type": "temporal", "title": null,
          "scale": {"domain": [{"year": 2025, "month": 1, "date": 13, "hours": 6}, {"year": 2025, "month": 7, "date": 6, "hours": 12}]},
          "axis": {
            "values": [
              {"year": 2025, "month": 2, "date": 1}, {"year": 2025, "month": 3, "date": 1},
              {"year": 2025, "month": 4, "date": 1}, {"year": 2025, "month": 5, "date": 1},
              {"year": 2025, "month": 6, "date": 1}, {"year": 2025, "month": 7, "date": 1}
            ],
            "format": "%b %-d",
            "labelPadding": 18,
            "labelFlush": false,
            "labelOverlap": false
          }
        },
        "y": {
          "field": "mn", "type": "quantitative", "title": "Snow Water Equivalent (in.)",
          "scale": {"domain": [-1.8, 33.7], "nice": false, "zero": false},
          "axis": {
            "titleFontSize": 30,
            "titlePadding": 25,
            "values": [0, 5, 10, 15, 20, 25, 30],
            "labelPadding": 11
          }
        },
        "y2": {"field": "p10"}
      }
    },
    {
      "data": {"name": "bands"},
      "mark": {"type": "area", "color": "#fcfbd8", "clip": true},
      "encoding": {
        "x": {"field": "date", "type": "temporal", "title": null},
        "y": {"field": "p10", "type": "quantitative", "title": "Snow Water Equivalent (in.)"},
        "y2": {"field": "p30"}
      }
    },
    {
      "data": {"name": "bands"},
      "mark": {"type": "area", "color": "#d7f8d5", "clip": true},
      "encoding": {
        "x": {"field": "date", "type": "temporal", "title": null},
        "y": {"field": "p30", "type": "quantitative", "title": "Snow Water Equivalent (in.)"},
        "y2": {"field": "p70"}
      }
    },
    {
      "data": {"name": "bands"},
      "mark": {"type": "area", "color": "#e3fafd", "clip": true},
      "encoding": {
        "x": {"field": "date", "type": "temporal", "title": null},
        "y": {"field": "p70", "type": "quantitative", "title": "Snow Water Equivalent (in.)"},
        "y2": {"field": "p90"}
      }
    },
    {
      "data": {"name": "bands"},
      "mark": {"type": "area", "color": "#d5e5f8", "clip": true},
      "encoding": {
        "x": {"field": "date", "type": "temporal", "title": null},
        "y": {"field": "p90", "type": "quantitative", "title": "Snow Water Equivalent (in.)"},
        "y2": {"field": "mx"}
      }
    },
    {
      "data": {"values": [{}]},
      "mark": {"type": "rule", "color": "#e4e9f2", "strokeWidth": 3},
      "encoding": {"y": {"datum": 0, "type": "quantitative", "title": "Snow Water Equivalent (in.)"}}
    },
    {
      "data": {"name": "median"},
      "mark": {"type": "line", "color": "#5fe768", "strokeWidth": 3, "clip": true},
      "encoding": {
        "x": {"field": "date", "type": "temporal", "title": null},
        "y": {"field": "v", "type": "quantitative", "title": "Snow Water Equivalent (in.)"}
      }
    },
    {
      "data": {"name": "proj"},
      "mark": {"type": "line", "strokeWidth": 4, "strokeDash": [6, 5], "clip": true},
      "encoding": {
        "x": {"field": "date", "type": "temporal", "title": null},
        "y": {"field": "v", "type": "quantitative", "title": "Snow Water Equivalent (in.)"},
        "color": {
          "field": "s", "type": "nominal",
          "scale": {
            "domain": ["Median Peak SWE", "Median (POR)", "Median ('91-'20)", "Max", "Stats. Shading", "Min",
              "Max Proj (POR)", "90% Proj (POR)", "70% Proj (POR)", "50% Proj (POR)", "30% Proj (POR)", "10% Proj (POR)", "Min Proj (POR)",
              "2025 (19 sites)", "2024 (19 sites)", "2023 (19 sites)", "2022 (19 sites)", "2021 (19 sites)", "2020 (19 sites)",
              "2019 (19 sites)", "2018 (19 sites)", "2017 (19 sites)", "2016 (19 sites)", "2015 (19 sites)", "2014 (19 sites)",
              "2013 (19 sites)", "2012 (19 sites)", "2011 (19 sites)", "2010 (18 sites)", "2009 (18 sites)"],
            "range": ["#3ddc3d", "#7fe3a8", "#5fe768", "#8e8ef2", "#c3f4c3", "#f29a9a",
              "#1c1cb4", "#2f86e0", "#72e2de", "#26cc26", "#e8d400", "#ee5a5a", "#dd1111",
              "#000000", "#FFA15A", "#AB63FA", "#00CC96", "#EF553B", "#636EFA",
              "#FECB52", "#FF97FF", "#B6E880", "#FF6692", "#19D3F3", "#FFA15A",
              "#AB63FA", "#00CC96", "#EF553B", "#636EFA", "#FECB52"]
          },
          "legend": {
            "title": null,
            "orient": "none",
            "legendX": 2023,
            "legendY": 11,
            "direction": "vertical",
            "columns": 1,
            "symbolType": "stroke",
            "symbolSize": 2809,
            "symbolStrokeWidth": 3,
            "symbolOffset": 20.5,
            "symbolLimit": 50,
            "labelFont": "DejaVu Sans",
            "labelFontSize": 21,
            "labelColor": "#2a3f5f",
            "labelOffset": 34.5,
            "labelLimit": 400,
            "rowPadding": 17.2,
            "padding": 10,
            "strokeColor": "#d4d4d4",
            "fillColor": "#ffffff",
            "cornerRadius": 0,
            "encode": {
              "legend": {"update": {"strokeWidth": {"value": 3}}},
              "symbols": {
                "update": {
                  "shape": {"signal": "datum.value === 'Median Peak SWE' ? 'cross' : (datum.value === 'Stats. Shading' ? 'M-1,-0.22L1,-0.22L1,0.22L-1,0.22Z' : 'stroke')"},
                  "angle": {"signal": "datum.value === 'Median Peak SWE' ? 45 : 0"},
                  "size": {"signal": "datum.value === 'Median Peak SWE' ? 380 : 2809"},
                  "fill": {"signal": "datum.value === 'Median Peak SWE' ? '#3ddc3d' : (datum.value === 'Stats. Shading' ? '#c3f4c3' : 'transparent')"},
                  "strokeWidth": {"signal": "(datum.value === 'Median Peak SWE' || datum.value === 'Stats. Shading') ? 0 : 3"},
                  "strokeDash": {"signal": "test(/Proj/, datum.value) ? [6, 5] : (datum.value === 'Median (POR)' ? [10, 10] : [])"},
                  "opacity": {"signal": "(datum.value === 'Median (POR)' || datum.value === 'Max' || datum.value === 'Min' || test(/^20(09|1[0-9]|2[0-4]) /, datum.value)) ? 0.5 : 1"}
                }
              },
              "labels": {
                "update": {
                  "fill": {"signal": "(datum.value === 'Median (POR)' || datum.value === 'Max' || datum.value === 'Min' || test(/^20(09|1[0-9]|2[0-4]) /, datum.value)) ? '#a3a7ad' : '#2a3f5f'"}
                }
              }
            }
          }
        }
      }
    },
    {
      "data": {"name": "wy2025"},
      "mark": {"type": "line", "color": "#111111", "strokeWidth": 4, "clip": true},
      "encoding": {
        "x": {"field": "date", "type": "temporal", "title": null},
        "y": {"field": "v", "type": "quantitative", "title": "Snow Water Equivalent (in.)"}
      }
    },
    {
      "data": {"values": [{"date": "2025/04/02", "v": 18.3}]},
      "mark": {"type": "point", "shape": "cross", "angle": 45, "filled": true, "size": 380, "color": "#3ddc3d", "opacity": 1},
      "encoding": {
        "x": {"field": "date", "type": "temporal", "title": null},
        "y": {"field": "v", "type": "quantitative", "title": "Snow Water Equivalent (in.)"}
      }
    },
    {
      "data": {"values": [{}]},
      "mark": {"type": "rect", "fill": "#ffffff", "stroke": "#9a9a9a", "strokeWidth": 2},
      "encoding": {
        "x": {"datum": {"year": 2025, "month": 1, "date": 15, "hours": 21}, "type": "temporal", "title": null},
        "x2": {"datum": {"year": 2025, "month": 2, "date": 16, "hours": 16}},
        "y": {"datum": 31.87, "type": "quantitative", "title": "Snow Water Equivalent (in.)"},
        "y2": {"datum": 26.77}
      }
    },
    {
      "data": {"values": [{"t": "Current as of 03/12/2025:\n% of Median - 68%\n% Median Peak - 60%\nDays Until Median Peak - 21\nPercentile - 11"}]},
      "mark": {"type": "text", "align": "left", "baseline": "top", "fontSize": 20, "lineHeight": 26.8, "lineBreak": "\n", "color": "#444444", "font": "DejaVu Sans"},
      "encoding": {
        "x": {"datum": {"year": 2025, "month": 1, "date": 16, "hours": 14}, "type": "temporal", "title": null},
        "y": {"datum": 31.69, "type": "quantitative", "title": "Snow Water Equivalent (in.)"},
        "text": {"field": "t"}
      }
    }
  ]
}
